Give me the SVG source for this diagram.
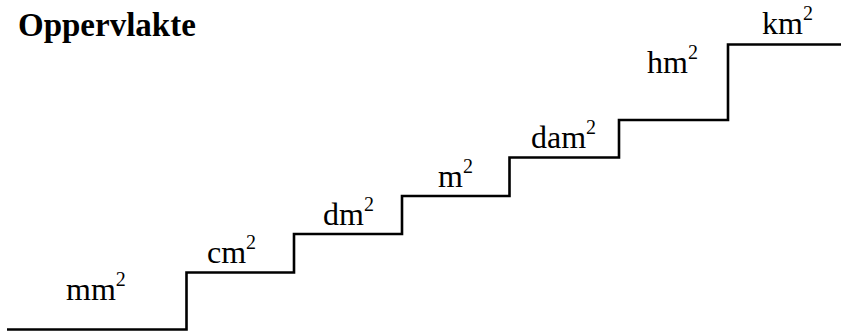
<svg xmlns="http://www.w3.org/2000/svg" width="841" height="331" viewBox="0 0 841 331">
  <style>
    .lbl { font-family: "Liberation Serif", "Times New Roman", serif; font-size: 32px; fill: #000; }
    .title { font-weight: bold; font-size: 33px; }
    .sup { font-size: 20px; }
    .stair { fill: none; stroke: #000; stroke-width: 2.6; }
  </style>
  <rect width="841" height="331" fill="#fff"/>
  <text class="lbl title" x="18" y="36">Oppervlakte</text>
  <g id="connectors">
    <path class="stair" d="M7,329.5 H186.5 V272.5 H294 V234 H402 V196 H509.5 V157.5 H619 V120 H728 V44.5 H841"/>
  </g>
  <g id="mm2"><text class="lbl" x="66" y="300">mm<tspan class="sup" dy="-14">2</tspan></text></g>
  <g id="cm2"><text class="lbl" x="207" y="263">cm<tspan class="sup" dy="-14">2</tspan></text></g>
  <g id="dm2"><text class="lbl" x="323" y="225">dm<tspan class="sup" dy="-14">2</tspan></text></g>
  <g id="m2"><text class="lbl" x="438" y="187">m<tspan class="sup" dy="-14">2</tspan></text></g>
  <g id="dam2"><text class="lbl" x="531" y="148">dam<tspan class="sup" dy="-14">2</tspan></text></g>
  <g id="hm2"><text class="lbl" x="647" y="73">hm<tspan class="sup" dy="-14">2</tspan></text></g>
  <g id="km2"><text class="lbl" x="762" y="34">km<tspan class="sup" dy="-14">2</tspan></text></g>
</svg>
